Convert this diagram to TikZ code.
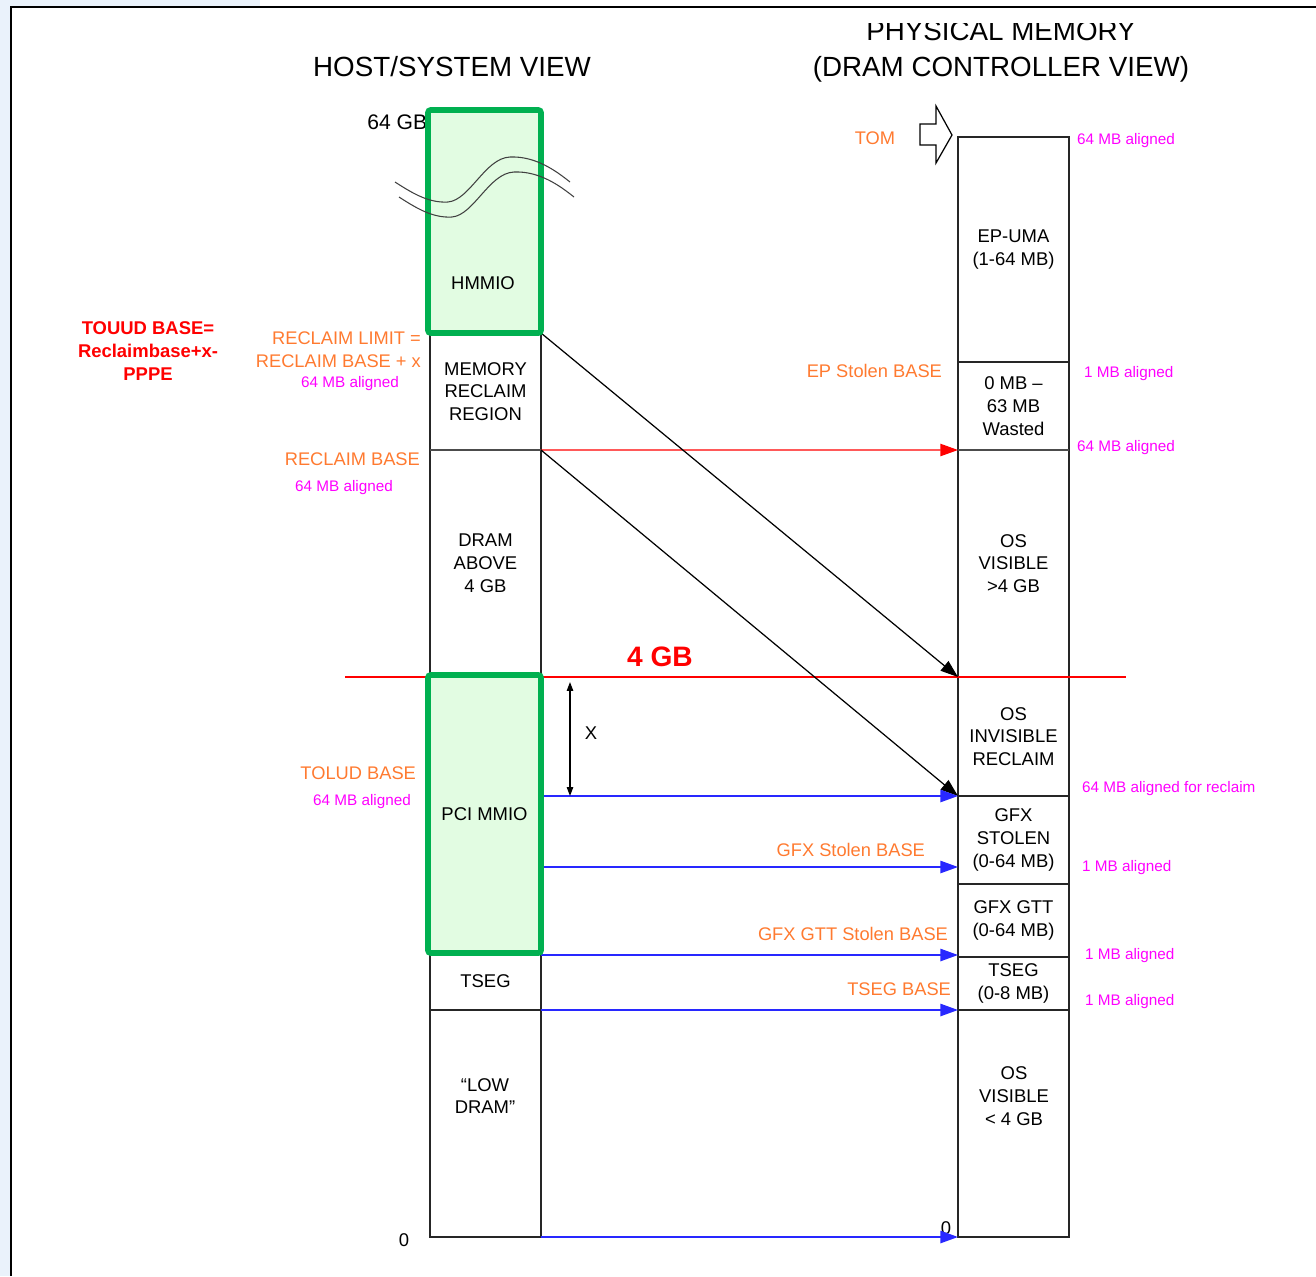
\documentclass[tikz,border=0pt]{standalone}
\usepackage{fontspec}
\setmainfont{Liberation Sans}
\usetikzlibrary{arrows.meta,calc}
\definecolor{lblorange}{RGB}{255,122,48}
\definecolor{lblmagenta}{RGB}{255,0,255}
\definecolor{mmiogreen}{RGB}{0,176,80}
\definecolor{mmiofill}{RGB}{226,252,226}
\definecolor{arrblue}{RGB}{40,40,255}
\definecolor{edgeblue}{RGB}{234,242,251}

\begin{document}
\begin{tikzpicture}[x=0.02cm, y=-0.02cm,
    seg/.style={draw=black!85, line width=0.7pt, anchor=north west, inner sep=0pt, outer sep=0pt,
      minimum width=111*0.02cm, align=center, font=\fontsize{10.5}{13}\selectfont},
    mmio/.style={draw=mmiogreen, fill=mmiofill, line width=3.2pt, rounded corners=1.5pt, anchor=north west,
      inner sep=0pt, outer sep=0pt, minimum width=113*0.02cm, font=\fontsize{10.5}{13}\selectfont},
    heading/.style={font=\fontsize{15.8}{19}\selectfont},
    baselbl/.style={text=lblorange, font=\fontsize{10.4}{13}\selectfont, inner sep=1pt, align=right},
    alignlbl/.style={text=lblmagenta, font=\fontsize{8.7}{10}\selectfont, inner sep=1pt},
    plainlbl/.style={font=\fontsize{10.5}{13}\selectfont, inner sep=1pt, align=center},
    bluearr/.style={draw=arrblue, line width=0.9pt, -{Triangle[length=10pt,width=7pt]}},
    redarr/.style={draw=red, line width=0.7pt, -{Triangle[length=10pt,width=7pt]}},
    remap/.style={draw=black, line width=0.7pt, -{Triangle[length=10pt,width=7pt]}},
    breakline/.style={draw=black!75, line width=0.6pt},
  ]
  % Rand
  \useasboundingbox (0,0) rectangle (1316,1276);
  \fill[edgeblue] (0,0) rectangle (10,1276);
  \fill[edgeblue] (0,0) rectangle (260,6);
  \draw[line width=1.1pt] (11,1276) -- (11,7) -- (1316,7);

  % Ueberschriften
  \node[heading] (hosthead) at (452,67) {HOST/SYSTEM VIEW};
  \begin{scope}
    \clip (700,23) rectangle (1300,120);
    \node[heading] (physhead) at (1001,31) {PHYSICAL MEMORY};
  \end{scope}
  \node[heading] (dramhead) at (1001,69) {(DRAM CONTROLLER VIEW)};

  % rechte Spalte (DRAM-Controller)
  \node[seg, minimum height=225*0.02cm] (epuma) at (958,137) {EP-UMA\\(1-64 MB)};
  \node[seg, minimum height=88*0.02cm] (wasted) at (958,362) {0 MB –\\63 MB\\Wasted};
  \node[seg, minimum height=227*0.02cm] (osvishi) at (958,450) {OS\\VISIBLE\\>4 GB};
  \node[seg, minimum height=119*0.02cm] (invis) at (958,677) {OS\\INVISIBLE\\RECLAIM};
  \node[seg, minimum height=88*0.02cm] (gfxst) at (958,796) {GFX\\STOLEN\\(0-64 MB)};
  \node[seg, minimum height=73*0.02cm] (gtt) at (958,884) {GFX GTT\\(0-64 MB)};
  \node[seg, minimum height=53*0.02cm] (tsegr) at (958,957) {TSEG\\(0-8 MB)};
  \node[seg, minimum height=227*0.02cm] (osvislo) at (958,1010) {};
  \node[plainlbl] (osvislotxt) at (1014,1096) {OS\\VISIBLE\\< 4 GB};

  % linke Spalte (Host)
  \node[anchor=west, font=\fontsize{12}{14}\selectfont, inner sep=0pt] (top64) at (367,122) {64 GB};
  \node[seg, minimum height=117*0.02cm] (reclaim) at (430,333) {MEMORY\\RECLAIM\\REGION};
  \node[seg, minimum height=227*0.02cm] (dramhi) at (430,450) {DRAM\\ABOVE\\4 GB};
  \node[seg, minimum height=57*0.02cm] (tsegl) at (430,953) {TSEG};
  \node[seg, minimum height=227*0.02cm] (lowdram) at (430,1010) {};
  \node[plainlbl] (lowdramtxt) at (485,1096) {“LOW\\DRAM”};
  \node[plainlbl] (zerol) at (404,1240) {0};
  \node[plainlbl] (zeror) at (946,1228) {0};

  % 64-MB-Grenzen
  \draw[line width=1.6pt, black!70] (reclaim.south west) -- (reclaim.south east);
  \draw[line width=1.6pt, black!70] (wasted.south west) -- (wasted.south east);

  % 4 GB Linie
  \coordinate (fourL) at (345,677);
  \coordinate (fourR) at (1126,677);
  \draw[red, line width=1.4pt] (fourL) -- (fourR);
  \node[text=red, font=\bfseries\fontsize{16}{18}\selectfont] (fourlbl) at (660,657) {4 GB};

  % MMIO-Bereich unten (fuer Pfeilanfaenge)
  \coordinate (pcitop) at (428,675);
  \coordinate (gfxbase) at (958,867);
  \coordinate (gttbase) at (958,955);
  \coordinate (xtop) at (570,682);

  % Pfeile
  \draw[redarr] (reclaim.south east) -- (wasted.south west);
  \draw[remap] (reclaim.north east) -- (osvishi.south west);
  \draw[remap] (reclaim.south east) -- (invis.south west);
  \draw[bluearr] (dramhi.east |- invis.south west) -- (invis.south west);
  \draw[bluearr] (dramhi.east |- gfxbase) -- (gfxbase);
  \draw[bluearr] (dramhi.east |- gttbase) -- (gttbase);
  \draw[bluearr] (tsegl.south east) -- (tsegr.south west);
  \draw[bluearr] (lowdram.south east) -- (osvislo.south west);
  \draw[line width=0.7pt, {Triangle[length=5pt,width=3.6pt]}-{Triangle[length=5pt,width=3.6pt]}]
    (xtop) -- (xtop |- invis.south west);
  \node[plainlbl] (xlbl) at (591,733) {X};

  % MMIO-Bereiche
  \node[mmio, minimum height=223*0.02cm] (hmmio) at (428,110) {};
  \node[plainlbl] (hmmiotxt) at (483,283) {HMMIO};
  \node[mmio, minimum height=278*0.02cm] (pci) at (pcitop) {PCI MMIO};

  % Bruchlinien
  \draw[breakline] (395,182) .. controls (415,195) and (430,203) .. (448,202)
    .. controls (470,200) and (485,158) .. (510,157) .. controls (535,156) and (555,170) .. (570,182);
  \draw[breakline, shift={(4,15)}] (395,182) .. controls (415,195) and (430,203) .. (448,202)
    .. controls (470,200) and (485,158) .. (510,157) .. controls (535,156) and (555,170) .. (570,182);

  % TOM
  \draw[line width=0.7pt] (920,124) -- (936,124) -- (936,106) -- (952,135) -- (936,163) -- (936,145) -- (920,145) -- cycle;
  \node[baselbl] (tom) at (875,138) {TOM};

  % Beschriftungen links
  \node[text=red, font=\bfseries\fontsize{10.5}{13}\selectfont, align=center] (touud) at (148,351) {TOUUD BASE=\\Reclaimbase+x-\\PPPE};
  \node[baselbl, anchor=east] (rlimit) at (423,350) {RECLAIM LIMIT =\\RECLAIM BASE + x};
  \node[alignlbl] (rlimital) at (350,384) {64 MB aligned};
  \node[baselbl, anchor=east] (rbase) at (422,459) {RECLAIM BASE};
  \node[alignlbl] (rbaseal) at (344,488) {64 MB aligned};
  \node[baselbl, anchor=east] (tolud) at (418,773) {TOLUD BASE};
  \node[alignlbl] (toludal) at (362,802) {64 MB aligned};

  % Beschriftungen Mitte
  \node[baselbl, anchor=east] (epbase) at (944,371) {EP Stolen BASE};
  \node[baselbl, anchor=east] (gfxbaselbl) at (927,850) {GFX Stolen BASE};
  \node[baselbl, anchor=east] (gttbaselbl) at (950,934) {GFX GTT Stolen BASE};
  \node[baselbl, anchor=east] (tsegbase) at (953,989) {TSEG BASE};

  % Beschriftungen rechts
  \node[alignlbl, anchor=west] (al1) at (1075,141) {64 MB aligned};
  \node[alignlbl, anchor=west] (al2) at (1082,374) {1 MB aligned};
  \node[alignlbl, anchor=west] (al3) at (1075,448) {64 MB aligned};
  \node[alignlbl, anchor=west] (al4) at (1080,789) {64 MB aligned for reclaim};
  \node[alignlbl, anchor=west] (al5) at (1080,868) {1 MB aligned};
  \node[alignlbl, anchor=west] (al6) at (1083,956) {1 MB aligned};
  \node[alignlbl, anchor=west] (al7) at (1083,1002) {1 MB aligned};
\end{tikzpicture}
\end{document}
